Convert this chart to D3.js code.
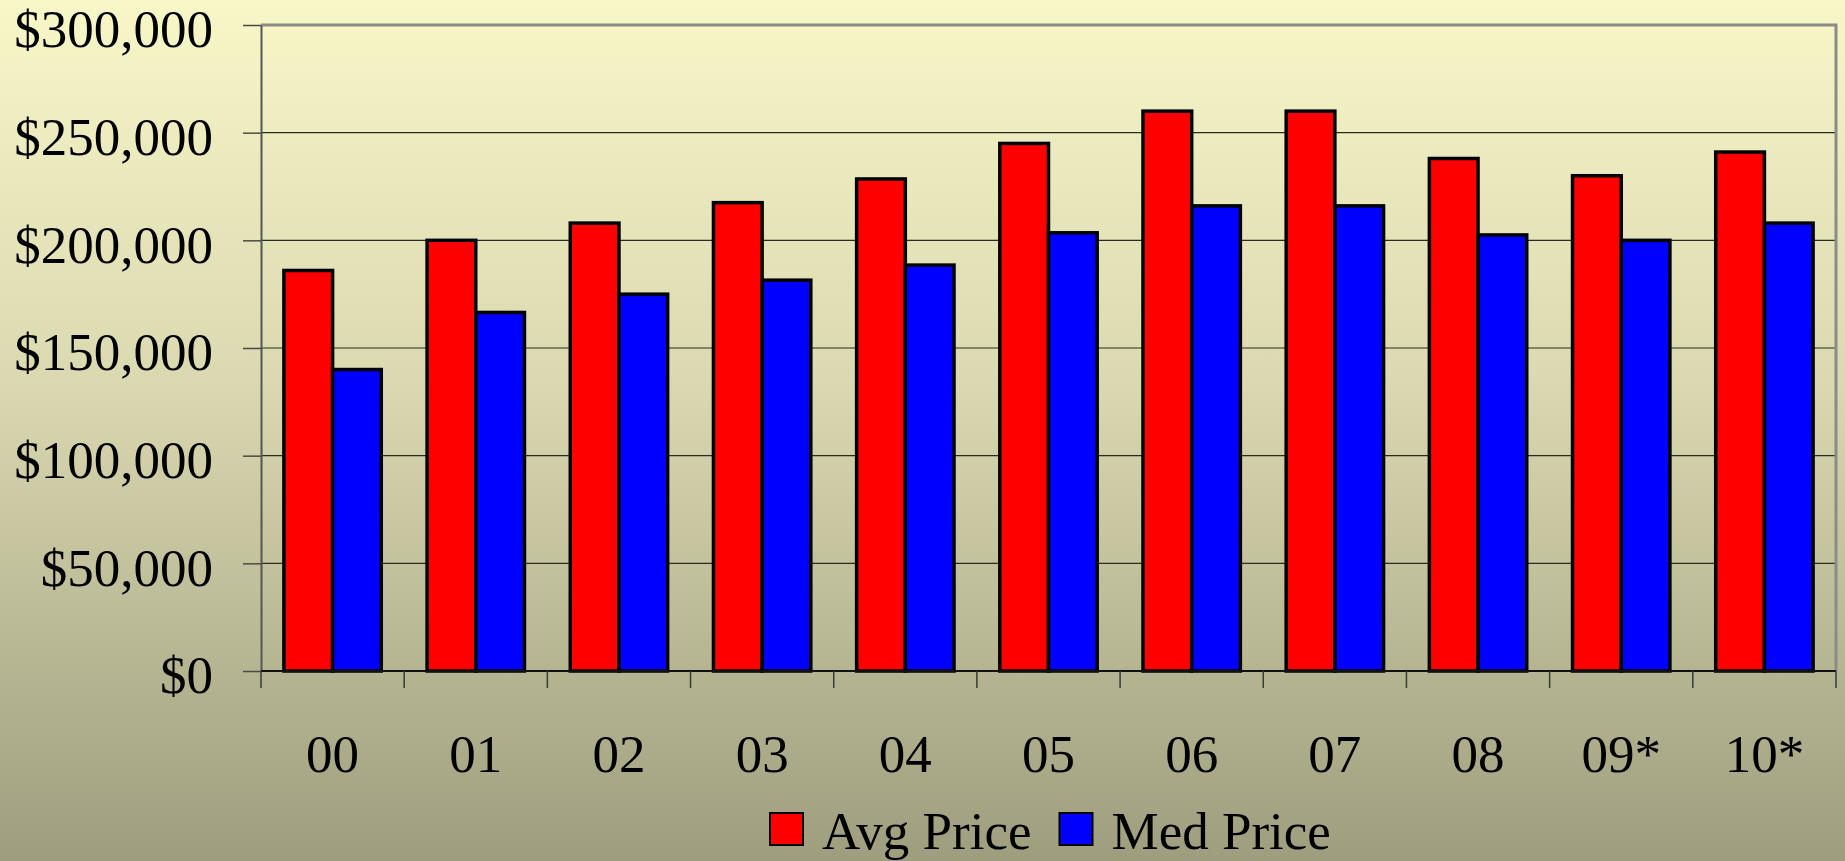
<!DOCTYPE html>
<html>
<head>
<meta charset="utf-8">
<script src="https://cdnjs.cloudflare.com/ajax/libs/d3/7.8.5/d3.min.js"></script>
<style>
html, body { margin: 0; padding: 0; overflow: hidden; background: #a09f80; }
svg { display: block; font-family: "Liberation Serif", "Times New Roman", serif; }
</style>
</head>
<body>
<svg id="chart"></svg>
<script>
// data
const years = ['00', '01', '02', '03', '04', '05', '06', '07', '08', '09*', '10*'];
const avgPrice = [186000, 200000, 208000, 217500, 228500, 245000, 260000, 260000, 238000, 230000, 241000];
const medPrice = [140000, 166500, 175000, 181500, 188500, 203500, 216000, 216000, 202500, 200000, 208000];
const seriesNames = ['Avg Price', 'Med Price'];
const seriesColors = ['#ff0000', '#0000ff'];
const yTicks = [0, 50000, 100000, 150000, 200000, 250000, 300000];

const W = 1845, H = 861;
const margin = { top: 25, right: 9, bottom: 190, left: 261 };
const width = W - margin.left - margin.right, height = H - margin.top - margin.bottom;
const fontSize = 53;

const rows = years.map((yr, i) => ({ year: yr, values: [avgPrice[i], medPrice[i]] }));

const svg = d3.select('#chart').attr('width', W).attr('height', H);

// background gradient, pale yellow down to olive grey
const grad = svg.append('defs').append('linearGradient').attr('id', 'bg').attr('x1', 0).attr('y1', 0).attr('x2', 0).attr('y2', 1);
grad.append('stop').attr('offset', '0%').attr('stop-color', '#f8f7c8');
grad.append('stop').attr('offset', '45%').attr('stop-color', '#d9d8b0');
grad.append('stop').attr('offset', '100%').attr('stop-color', '#9e9d7e');
svg.append('rect').attr('width', W).attr('height', H).attr('fill', 'url(#bg)');

const g = svg.append('g').attr('transform', `translate(${margin.left},${margin.top})`);

const x0 = d3.scaleBand().domain(years).range([0, width]).paddingInner(0.32).paddingOuter(0.16);
const x1 = d3.scaleBand().domain(seriesNames).range([0, x0.bandwidth()]);
const y = d3.scaleLinear().domain([0, 300000]).range([height, 0]);

// gridlines
g.append('g').selectAll('line').data(yTicks.filter(d => d > 0 && d < 300000)).join('line')
  .attr('x1', 0).attr('x2', width).attr('y1', d => y(d)).attr('y2', d => y(d))
  .attr('stroke', '#2a2a22').attr('stroke-width', 1.2);

// frame top + right (grey)
g.append('path').attr('d', `M0,${y(300000)}H${width}V${height}`)
  .attr('fill', 'none').attr('stroke', '#8c8c86').attr('stroke-width', 3);

// y axis
const yAxis = g.append('g').call(d3.axisLeft(y).tickValues(yTicks).tickSize(18).tickSizeOuter(0).tickPadding(30)
  .tickFormat(d => '$' + d3.format(',')(d)));
yAxis.attr('font-family', null).attr('font-size', null);
yAxis.select('.domain').attr('stroke', '#55555a').attr('stroke-width', 2);
yAxis.selectAll('.tick line').attr('stroke', '#4a4a44').attr('stroke-width', 1.5);
yAxis.selectAll('.tick text').attr('font-size', fontSize).attr('fill', '#000').attr('dy', '0.41em');

// bars
const groups = g.append('g').selectAll('g').data(rows).join('g')
  .attr('transform', d => `translate(${x0(d.year)},0)`);
groups.selectAll('rect').data(d => d.values.map((v, i) => ({ key: seriesNames[i], v, i }))).join('rect')
  .attr('x', d => x1(d.key)).attr('width', x1.bandwidth())
  .attr('y', d => y(d.v)).attr('height', d => y(0) - y(d.v))
  .attr('fill', d => seriesColors[d.i]).attr('stroke', '#000').attr('stroke-width', 3.5);

// x axis baseline, boundary ticks and labels
const bounds = years.map(d => x0(d) - x0.step() * x0.paddingInner() / 2).concat([width]);
g.append('line').attr('x1', 0).attr('x2', width).attr('y1', height).attr('y2', height)
  .attr('stroke', '#111').attr('stroke-width', 2);
g.append('g').selectAll('line').data(bounds).join('line')
  .attr('x1', d => d).attr('x2', d => d).attr('y1', height).attr('y2', height + 17)
  .attr('stroke', '#3a3a36').attr('stroke-width', 1.5);
const xAxis = g.append('g').attr('transform', `translate(0,${height})`).call(d3.axisBottom(x0).tickSize(0).tickPadding(0));
xAxis.attr('font-family', null).attr('font-size', null);
xAxis.select('.domain').remove();
xAxis.selectAll('.tick text').attr('font-size', fontSize).attr('fill', '#000').attr('y', 101).attr('dy', 0);

// legend
const legend = svg.append('g').attr('transform', 'translate(769,812)');
let lx = 0;
seriesNames.forEach((name, i) => {
  const item = legend.append('g').attr('transform', `translate(${lx},0)`);
  item.append('rect').attr('x', 1).attr('y', 1).attr('width', 33).attr('height', 32)
    .attr('fill', seriesColors[i]).attr('stroke', '#000').attr('stroke-width', 2);
  const t = item.append('text').attr('x', 53).attr('y', 37).attr('font-size', fontSize).attr('fill', '#000').text(name);
  lx += 53 + t.node().getComputedTextLength() + 27;
});
</script>
</body>
</html>
